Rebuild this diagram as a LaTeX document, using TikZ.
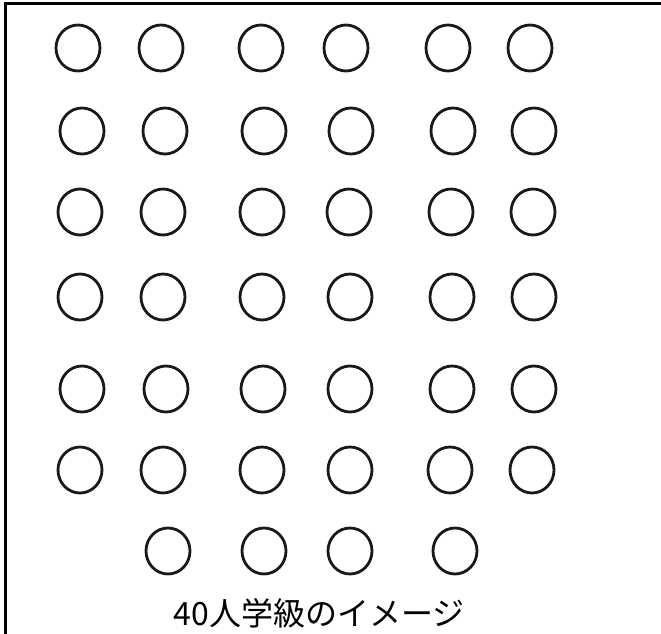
\documentclass[tikz,border=0pt]{standalone}
\usepackage{fontspec}
\newfontfamily\jpfont{Noto Sans CJK JP}
\usetikzlibrary{shapes.geometric}
\begin{document}
\begin{tikzpicture}[x=1pt,y=-1pt,
  seat/.style={ellipse,draw=black!90,line width=2.8pt,minimum width=44pt,minimum height=46pt,inner sep=0pt},
  frameline/.style={line width=3pt,black}]
\useasboundingbox (0,0) rectangle (661,634);
\coordinate (tl) at (5,4);
\coordinate (tr) at (661,4);
\coordinate (bl) at (5,634);
\draw[frameline] (tr) -- (tl) -- (bl);
\foreach \x [count=\i] in {78,161,261,346,448,530}{\node[seat] (r1c\i) at (\x,48) {};}
\foreach \x [count=\i] in {82,165,264,351,453,534}{\node[seat] (r2c\i) at (\x,131) {};}
\foreach \x [count=\i] in {80,163,262,349,451,533}{\node[seat] (r3c\i) at (\x,212) {};}
\foreach \x [count=\i] in {80,163,262,350,452,534}{\node[seat] (r4c\i) at (\x,297) {};}
\foreach \x [count=\i] in {82,166,263,350,452,534}{\node[seat] (r5c\i) at (\x,389) {};}
\foreach \x [count=\i] in {80,163,262,350,450,532}{\node[seat] (r6c\i) at (\x,470) {};}
\foreach \x [count=\i] in {168,264,350,455}{\node[seat] (r7c\i) at (\x,551) {};}
\node[font=\jpfont\fontsize{32}{32}\selectfont,inner sep=0pt] (title) at (319,613) {40人学級のイメージ};
\end{tikzpicture}
\end{document}
